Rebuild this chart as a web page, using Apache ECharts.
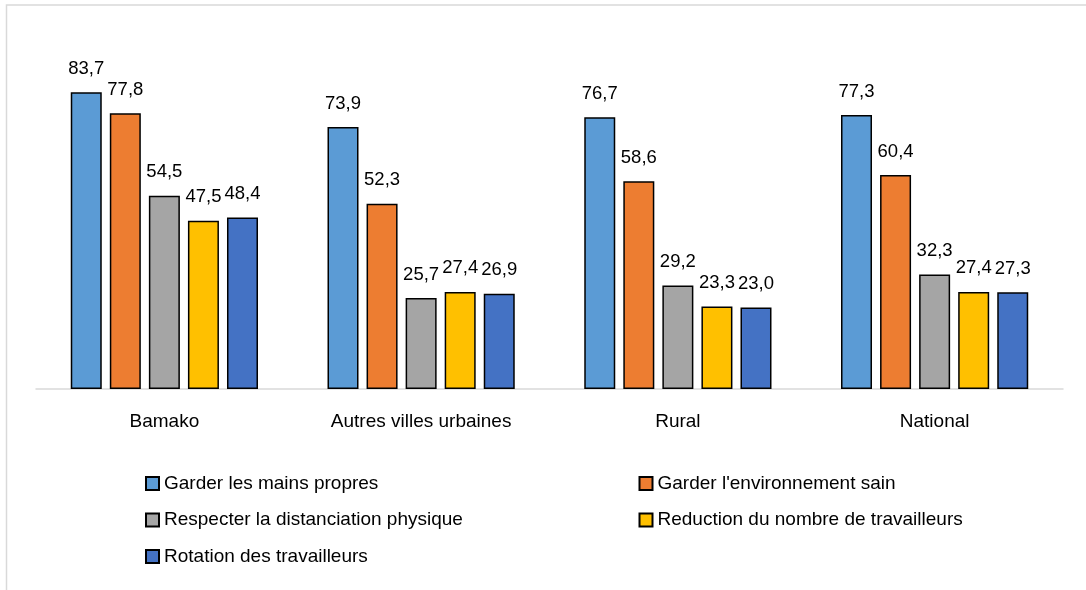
<!DOCTYPE html>
<html><head><meta charset="utf-8">
<script src="https://cdn.jsdelivr.net/npm/echarts@6/dist/echarts.min.js"></script>
<style>html,body{margin:0;padding:0;background:#fff}#c{width:1086px;height:590px}</style>
</head><body><div id="c"></div>
<script>
const categories = ['Bamako', 'Autres villes urbaines', 'Rural', 'National'];
const seriesNames = ['Garder les mains propres', "Garder l'environnement sain", 'Respecter la distanciation physique', 'Reduction du nombre de travailleurs', 'Rotation des travailleurs'];
const mainsPropres = [83.7, 73.9, 76.7, 77.3];
const environnementSain = [77.8, 52.3, 58.6, 60.4];
const distanciation = [54.5, 25.7, 29.2, 32.3];
const reductionTravailleurs = [47.5, 27.4, 23.3, 27.4];
const rotationTravailleurs = [48.4, 26.9, 23.0, 27.3];
const colors = ['#5B9BD5', '#ED7D31', '#A5A5A5', '#FFC000', '#4472C4'];
const allValues = [mainsPropres, environnementSain, distanciation, reductionTravailleurs, rotationTravailleurs];

const chart = echarts.init(document.getElementById('c'));
const font = 'Liberation Sans, Arial, sans-serif';
const series = seriesNames.map((n, i) => ({
  name: n, type: 'bar', data: allValues[i], barWidth: 31, barGap: '26%',
  itemStyle: { color: colors[i], borderColor: '#000', borderWidth: 1.5 },
  label: { show: true, position: 'top', distance: 14, color: '#000', fontSize: 18.5, fontFamily: font,
    formatter: p => p.value.toFixed(1).replace('.', ',') },
  animation: false
}));
chart.setOption({
  animation: false,
  color: colors,
  graphic: [{ type: 'rect', shape: { x: 6.5, y: 5, width: 1100, height: 600 }, style: { fill: 'none', stroke: '#D9D9D9', lineWidth: 1.5 } }],
  grid: { left: 36, right: 23, top: 70, bottom: 201 },
  xAxis: { type: 'category', data: categories,
    axisLine: { lineStyle: { color: '#D9D9D9', width: 1.5 } }, axisTick: { show: false },
    axisLabel: { color: '#000', fontSize: 19, fontFamily: font, margin: 23 } },
  yAxis: { type: 'value', min: 0, max: 90, show: false, splitLine: { show: false } },
  legend: [
    { orient: 'vertical', left: 145, top: 474, padding: 0, icon: 'rect', itemWidth: 13, itemHeight: 13, itemGap: 17.5,
      data: [seriesNames[0], seriesNames[2], seriesNames[4]],
      textStyle: { color: '#000', fontSize: 19, fontFamily: font } },
    { orient: 'vertical', left: 638.5, top: 474, padding: 0, icon: 'rect', itemWidth: 13, itemHeight: 13, itemGap: 17.5,
      data: [seriesNames[1], seriesNames[3]],
      textStyle: { color: '#000', fontSize: 19, fontFamily: font } }
  ],
  series: series
});
</script></body></html>
